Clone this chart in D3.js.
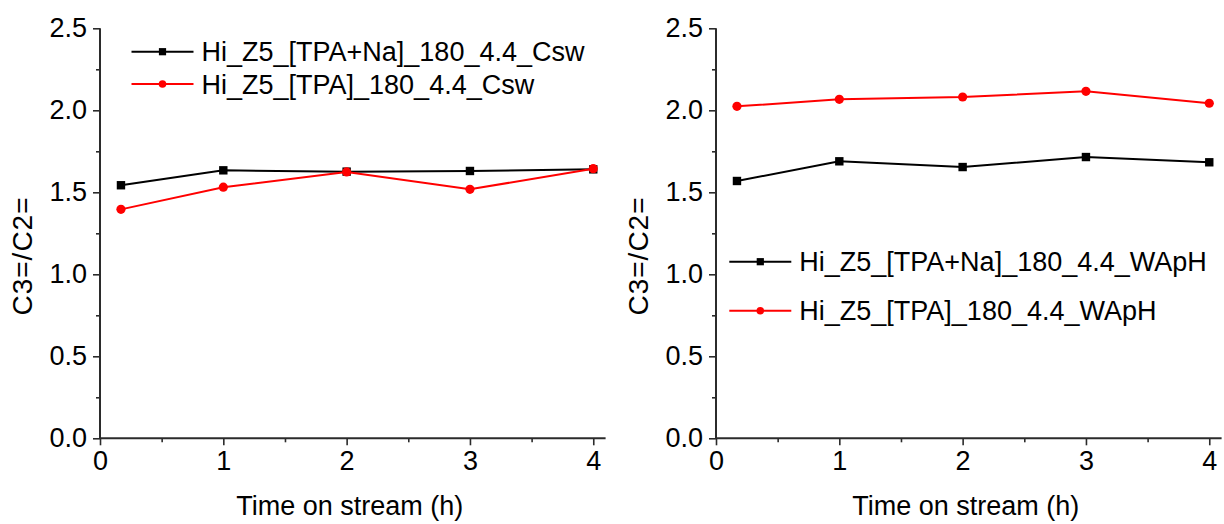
<!DOCTYPE html>
<html>
<head>
<meta charset="utf-8">
<script src="https://cdn.jsdelivr.net/npm/d3@7"></script>
<style>
  html, body { margin: 0; padding: 0; background: #fff; }
  svg { display: block; }
  text { font-family: "Liberation Sans", Arial, sans-serif; fill: #000; }
</style>
</head>
<body>
<svg id="chart" width="1224" height="524"></svg>
<script>
// Time on stream (h)
const times = [0.17, 1, 2, 3, 4];

// Left panel: Csw series
const cswNaValues = [1.543, 1.634, 1.626, 1.630, 1.640];
const cswValues   = [1.396, 1.531, 1.624, 1.518, 1.644];

// Right panel: WApH series
const waphNaValues = [1.569, 1.689, 1.654, 1.715, 1.683];
const waphValues   = [2.024, 2.067, 2.081, 2.116, 2.043];

const cswNaName = "Hi_Z5_[TPA+Na]_180_4.4_Csw";
const cswName   = "Hi_Z5_[TPA]_180_4.4_Csw";
const waphNaName = "Hi_Z5_[TPA+Na]_180_4.4_WApH";
const waphName   = "Hi_Z5_[TPA]_180_4.4_WApH";

const xTicks = [0, 1, 2, 3, 4];
const xMinorTicks = [0.5, 1.5, 2.5, 3.5];
const yTicks = [0, 0.5, 1.0, 1.5, 2.0, 2.5];
const yMinorTicks = [0.25, 0.75, 1.25, 1.75, 2.25];

const xTitle = "Time on stream (h)";
const yTitle = "C3=/C2=";

const svg = d3.select("#chart");
const FONT = 27;
const AXIS_COLOR = "#2b2b2b";

function drawPanel(opts) {
  const x = d3.scaleLinear().domain([0, 4.1]).range([opts.left, opts.left + 505.6]);
  const y = d3.scaleLinear().domain([0, 2.5]).range([438.3, 28.3]);
  const g = svg.append("g");

  // y axis: major ticks with labels, minor ticks without
  const yAxis = d3.axisLeft(y).tickValues(yTicks).tickFormat(d3.format(".1f")).tickSize(7).tickPadding(6);
  const yg = g.append("g").attr("transform", `translate(${x(0)},0)`).call(yAxis);
  const yMinor = d3.axisLeft(y).tickValues(yMinorTicks).tickFormat("").tickSize(4);
  const ygm = g.append("g").attr("transform", `translate(${x(0)},0)`).call(yMinor);

  // x axis
  const xAxis = d3.axisBottom(x).tickValues(xTicks).tickFormat(d3.format("d")).tickSize(7).tickPadding(4);
  const xg = g.append("g").attr("transform", `translate(0,${y(0)})`).call(xAxis);
  const xMinor = d3.axisBottom(x).tickValues(xMinorTicks).tickFormat("").tickSize(4);
  const xgm = g.append("g").attr("transform", `translate(0,${y(0)})`).call(xMinor);

  [yg, ygm, xg, xgm].forEach(a => {
    a.select(".domain").attr("stroke", AXIS_COLOR).attr("stroke-width", 2);
    a.selectAll(".tick line").attr("stroke", AXIS_COLOR).attr("stroke-width", 1.6);
    a.selectAll("text").attr("font-size", FONT).attr("fill", "#000")
      .style("font-family", '"Liberation Sans", Arial, sans-serif');
  });
  yg.select(".domain").attr("d", `M0,${y(0)}V${y(2.5)}`);
  xg.select(".domain").attr("d", `M${x(0)},0H${x(4.1)}`);
  ygm.select(".domain").remove();
  xgm.select(".domain").remove();
  yg.selectAll(".tick text").attr("dy", "0.3em");
  xg.selectAll(".tick text").attr("dy", "0.76em");

  // axis titles
  g.append("text")
    .attr("x", (x(0) + x(4.1)) / 2 - 3)
    .attr("y", 515)
    .attr("text-anchor", "middle")
    .attr("font-size", FONT)
    .text(xTitle);
  g.append("text")
    .attr("transform", `translate(${opts.left - 68},256) rotate(-90)`)
    .attr("text-anchor", "middle")
    .attr("font-size", 28)
    .attr("letter-spacing", 1)
    .text(yTitle);

  const line = d3.line().x((d, i) => x(times[i])).y(d => y(d));

  opts.series.forEach(s => {
    g.append("path")
      .datum(s.values)
      .attr("fill", "none")
      .attr("stroke", s.color)
      .attr("stroke-width", 2)
      .attr("d", line);
    const pts = g.append("g").selectAll("g").data(s.values).join("g")
      .attr("transform", (d, i) => `translate(${x(times[i])},${y(d)})`);
    if (s.shape === "square") {
      pts.append("rect").attr("x", -4.2).attr("y", -4.2).attr("width", 8.4).attr("height", 8.4).attr("fill", s.color);
    } else {
      pts.append("circle").attr("r", 4.6).attr("fill", s.color);
    }
  });

  // legend
  opts.series.forEach((s, i) => {
    const ly = opts.legendY[i];
    const lg = g.append("g");
    lg.append("line")
      .attr("x1", opts.legendX).attr("x2", opts.legendX + 62)
      .attr("y1", ly).attr("y2", ly)
      .attr("stroke", s.color).attr("stroke-width", 2);
    const cx = opts.legendX + 31;
    if (s.shape === "square") {
      lg.append("rect").attr("x", cx - 3.6).attr("y", ly - 3.6).attr("width", 7.2).attr("height", 7.2).attr("fill", s.color);
    } else {
      lg.append("circle").attr("cx", cx).attr("cy", ly).attr("r", 3.8).attr("fill", s.color);
    }
    lg.append("text")
      .attr("x", opts.legendX + 70)
      .attr("y", ly + 9.6)
      .attr("font-size", FONT)
      .text(s.name);
  });
}

drawPanel({
  left: 100,
  legendX: 131.5,
  legendY: [51.7, 84],
  series: [
    { name: cswNaName, values: cswNaValues, color: "#000000", shape: "square" },
    { name: cswName, values: cswValues, color: "#ff0000", shape: "circle" }
  ]
});

drawPanel({
  left: 716,
  legendX: 729.3,
  legendY: [261.7, 310.7],
  series: [
    { name: waphNaName, values: waphNaValues, color: "#000000", shape: "square" },
    { name: waphName, values: waphValues, color: "#ff0000", shape: "circle" }
  ]
});
</script>
</body>
</html>
